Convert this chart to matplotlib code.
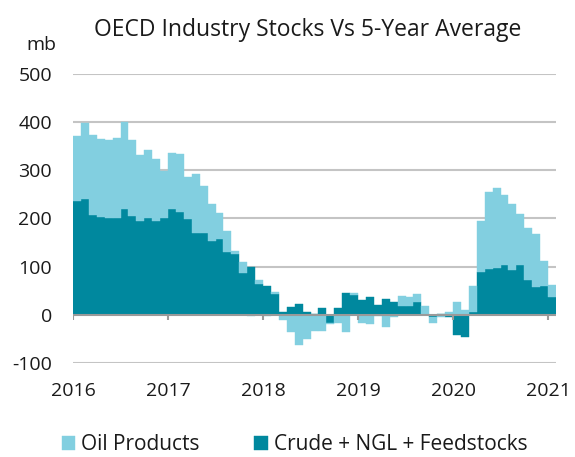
import numpy as np
import matplotlib
matplotlib.use("Agg")
import matplotlib.pyplot as plt

plt.rcParams['font.family'] = ['Open Sans', 'DejaVu Sans']

# Monthly deviation from 5-year average, Jan 2016 - Jan 2021 (mb)
crude = [237, 240, 208, 203, 200, 202, 220, 205, 195, 202, 195, 200,
         219, 214, 198, 170, 170, 154, 157, 131, 126, 87, 100, 64,
         59, 43, 5, 17, 22, 6, 1, 15, -17, 15, 46, 42,
         30, 36, 20, 32, 27, 18, 18, 27, 1, -4, 2, -4,
         -41, -46, 5, 89, 95, 98, 103, 93, 103, 73, 58, 59,
         37]
products = [135, 158, 166, 162, 163, 165, 180, 158, 136, 141, 129, 99,
            117, 119, 89, 122, 97, 76, 55, 44, 7, 22, -3, 8,
            -3, 4, -10, -36, -62, -50, -34, -34, -2, -17, -36, 4,
            -17, -20, -2, -25, -4, 21, 19, 16, 17, -12, -5, 5,
            27, 10, 55, 105, 160, 165, 145, 138, 106, 108, 109, 53,
            25]
year_labels = ['2016', '2017', '2018', '2019', '2020', '2021']
y_ticks = [-100, 0, 100, 200, 300, 400, 500]

light = '#82CFE0'
dark = '#00889E'

crude = np.array(crude)
products = np.array(products)
months = np.arange(len(crude))
# excel-style stacking: positives on positives, negatives on negatives
prod_bottom = np.where(products >= 0, np.maximum(crude, 0), np.minimum(crude, 0))

fig = plt.figure(figsize=(5.75, 4.57), dpi=100)
ax = fig.add_axes([73 / 575, 94 / 457, 483 / 575, 289 / 457])

ax.bar(months, crude, width=1, align='edge', color=dark, linewidth=0.3,
       edgecolor=dark, label='Crude + NGL + Feedstocks', zorder=2)
ax.bar(months, products, width=1, bottom=prod_bottom, align='edge', color=light,
       linewidth=0.3, edgecolor=light, label='Oil Products', zorder=2)

ax.set_xlim(0, len(crude))
ax.set_ylim(-100, 500)
ax.set_yticks(y_ticks)
ax.set_yticklabels([str(v) for v in y_ticks])
year_pos = np.arange(len(year_labels)) * 12
ax.set_xticks(year_pos)
ax.set_xticklabels(year_labels)
ax.yaxis.set_tick_params(length=0, labelsize=14, labelcolor='#1a1a1a', pad=15)
ax.xaxis.set_tick_params(length=0, labelsize=14, labelcolor='#1a1a1a', pad=14)

for v in y_ticks:
    if v != 0:
        ax.axhline(v, color='#c4c4c4', linewidth=1.5, zorder=1)
ax.axhline(0, color='#9a9a9a', linewidth=1.5, zorder=3)
ax.vlines(year_pos, -11, 0, color='#9a9a9a', linewidth=1.5, zorder=3)

for s in ax.spines.values():
    s.set_visible(False)

fig.text(307.5 / 575, 1 - 30 / 457, 'OECD Industry Stocks Vs 5-Year Average',
         ha='center', va='center', fontsize=16.5, color='#1a1a1a')
fig.text(41 / 575, 1 - 45 / 457, 'mb', ha='center', va='center',
         fontsize=14, color='#1a1a1a')

handles, labels = ax.get_legend_handles_labels()
fig.legend(handles[::-1], labels[::-1], loc='center', ncol=2,
           bbox_to_anchor=(294.5 / 575, 1 - 445 / 457), frameon=False,
           fontsize=15, handlelength=0.65, handleheight=0.65,
           handletextpad=0.3, columnspacing=2.6, labelcolor='#1a1a1a')

plt.savefig('out.png')
plt.close()
